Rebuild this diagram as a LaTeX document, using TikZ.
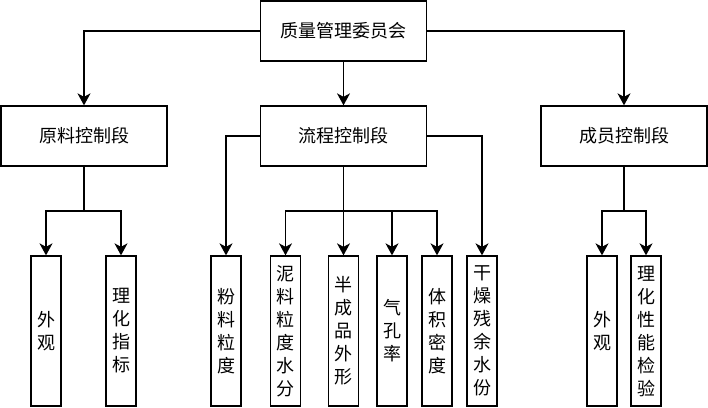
\documentclass[tikz,border=0pt]{standalone}
\usepackage{fontspec}
\usepackage{tikz}
\usetikzlibrary{arrows.meta}
\newfontfamily\cjk{Noto Sans CJK SC}

\begin{document}
\begin{tikzpicture}[x=1pt,y=-1pt,
    box/.style={draw, line width=1.3pt, minimum width=166pt, minimum height=60pt,
        inner sep=0pt, font=\cjk\fontsize{18}{23}\selectfont},
    leaf/.style={draw, line width=1.3pt, minimum width=30pt, minimum height=150pt,
        inner sep=0pt, align=center, font=\cjk\fontsize{18}{23}\selectfont},
    arr/.style={line width=1.3pt, -{Stealth[length=12pt,width=13pt,inset=3.5pt]}}]
    \useasboundingbox (0,0) rectangle (708,407);

    % Comite
    \node[box] (qm) at (343.5,31) {质量管理委员会};

    % Trois segments
    \node[box] (yl) at (84,136) {原料控制段};
    \node[box] (lc) at (343.5,136) {流程控制段};
    \node[box] (cy) at (624,136) {成员控制段};

    % Feuilles
    \node[leaf] (yl1) at (46,331) {外\\观};
    \node[leaf] (yl2) at (121,331) {理\\化\\指\\标};
    \node[leaf] (lc1) at (226,331) {粉\\料\\粒\\度};
    \node[leaf] (lc2) at (285.5,331) {泥\\料\\粒\\度\\水\\分};
    \node[leaf] (lc3) at (343.5,331) {半\\成\\品\\外\\形};
    \node[leaf] (lc4) at (392,331) {气\\孔\\率};
    \node[leaf] (lc5) at (437,331) {体\\积\\密\\度};
    \node[leaf] (lc6) at (482,331) {干\\燥\\残\\余\\水\\份};
    \node[leaf] (cy1) at (602,331) {外\\观};
    \node[leaf] (cy2) at (646,331) {理\\化\\性\\能\\检\\验};

    % Points de branchement
    \coordinate (ylfork) at (84,211);
    \coordinate (lcfork) at (343.5,211);
    \coordinate (cyfork) at (624,211);

    % Niveau 1
    \draw[arr] (qm.west) -| (yl.north);
    \draw[arr] (qm.south) -- (lc.north);
    \draw[arr] (qm.east) -| (cy.north);

    % Niveau 2
    \draw[line width=1.3pt] (yl.south) -- (ylfork);
    \draw[arr] (ylfork) -| (yl1.north);
    \draw[arr] (ylfork) -| (yl2.north);

    \draw[arr] (lc.west) -| (lc1.north);
    \draw[arr] (lc.south) -- (lc3.north);
    \draw[arr] (lcfork) -| (lc2.north);
    \draw[arr] (lcfork) -| (lc4.north);
    \draw[arr] (lcfork) -| (lc5.north);
    \draw[arr] (lc.east) -| (lc6.north);

    \draw[line width=1.3pt] (cy.south) -- (cyfork);
    \draw[arr] (cyfork) -| (cy1.north);
    \draw[arr] (cyfork) -| (cy2.north);
\end{tikzpicture}
\end{document}
